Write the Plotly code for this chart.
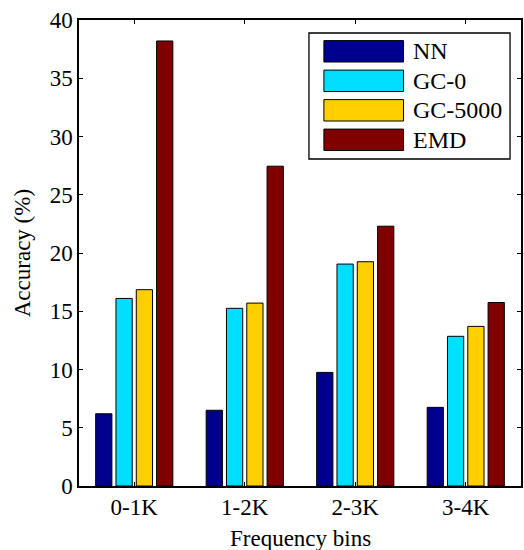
import plotly.graph_objects as go

categories = ["0-1K", "1-2K", "2-3K", "3-4K"]
series_names = ["NN", "GC-0", "GC-5000", "EMD"]
nn = [6.2, 6.5, 9.75, 6.75]
gc0 = [16.1, 15.25, 19.05, 12.85]
gc5000 = [16.85, 15.7, 19.25, 13.7]
emd = [38.2, 27.45, 22.3, 15.75]
y_ticks = [0, 5, 10, 15, 20, 25, 30, 35, 40]
colors = ["#00008F", "#00DFFF", "#FFCF00", "#800000"]

FONT = "Liberation Serif"
FS = 23

fig = go.Figure()
for name, vals, col in zip(series_names, [nn, gc0, gc5000, emd], colors):
    fig.add_trace(go.Bar(
        x=categories, y=vals, name=name,
        marker=dict(color=col, line=dict(color="black", width=1)),
        showlegend=False,
    ))

# plot area in pixels: x 79..523, y 20..486
W, H = 524, 550
L, R, T, B = 79, 1, 20, 64
pw = W - L - R
ph = H - T - B

def px2x(px):
    return (px - L) / pw

def py2y(py):
    return (H - B - py) / ph

shapes = []
annotations = []
# legend box
shapes.append(dict(type="rect", xref="paper", yref="paper",
                   x0=px2x(310), x1=px2x(512), y0=py2y(159), y1=py2y(33),
                   line=dict(color="black", width=1.3), fillcolor="white", layer="above"))
for i, (name, col) in enumerate(zip(series_names, colors)):
    cy = 51.3 + i * 29.5
    shapes.append(dict(type="rect", xref="paper", yref="paper",
                       x0=px2x(325), x1=px2x(405), y0=py2y(cy + 10.7), y1=py2y(cy - 10.7),
                       line=dict(color="black", width=1), fillcolor=col, layer="above"))
    annotations.append(dict(text=name, xref="paper", yref="paper",
                            x=px2x(412), y=py2y(cy), xanchor="left", yanchor="middle",
                            showarrow=False, font=dict(family=FONT, size=FS + 1, color="black")))

# axis titles
annotations.append(dict(text="Accuracy (%)", xref="paper", yref="paper",
                        x=px2x(22), y=py2y(253), xanchor="center", yanchor="middle",
                        textangle=-90, showarrow=False,
                        font=dict(family=FONT, size=FS, color="black")))
annotations.append(dict(text="Frequency bins", xref="paper", yref="paper",
                        x=px2x(301), y=py2y(538), xanchor="center", yanchor="middle",
                        showarrow=False, font=dict(family=FONT, size=FS, color="black")))

fig.update_layout(
    width=W, height=H,
    margin=dict(l=L, r=R, t=T, b=B),
    paper_bgcolor="white", plot_bgcolor="white",
    barmode="group", bargap=0.265, bargroupgap=0.2,
    font=dict(family=FONT, size=FS, color="black"),
    shapes=shapes, annotations=annotations,
    showlegend=False,
)
fig.update_xaxes(
    range=[-0.5, 3.5], showline=True, linecolor="black", linewidth=1.5, mirror="ticks",
    ticks="inside", ticklen=4, tickwidth=1, tickcolor="black", showgrid=False,
    tickfont=dict(family=FONT, size=FS, color="black"),
)
fig.update_yaxes(
    range=[0, 40], tickvals=y_ticks, showline=True, linecolor="black", linewidth=1.5,
    mirror="ticks", ticks="inside", ticklen=4, tickwidth=1, tickcolor="black",
    showgrid=False, zeroline=False,
    tickfont=dict(family=FONT, size=FS, color="black"),
)

fig.write_html(
    "out.html",
    config={"displayModeBar": False},
    post_script="document.body.style.margin='0';document.body.style.overflow='hidden';",
)
